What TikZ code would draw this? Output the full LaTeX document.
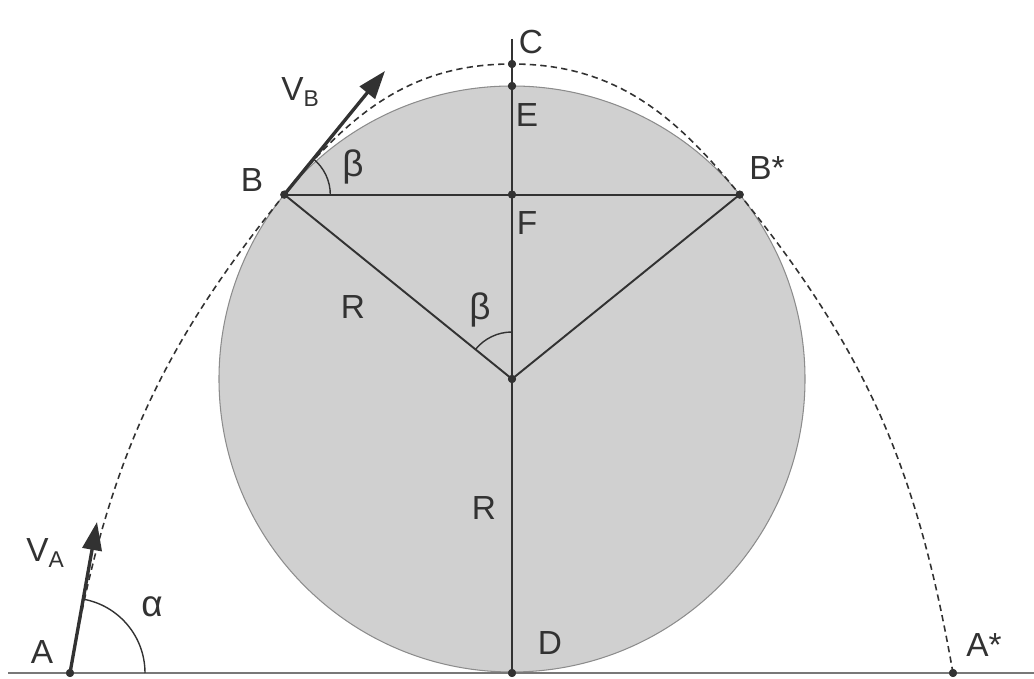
\documentclass[tikz,border=0pt]{standalone}
\usepackage{fontspec}
\setmainfont{Liberation Sans}
\usetikzlibrary{arrows.meta}
\definecolor{cfill}{RGB}{208,208,208}
\definecolor{ink}{RGB}{50,50,50}
\definecolor{groundc}{RGB}{120,120,120}
\begin{document}
\begin{tikzpicture}[x=0.02cm,y=0.02cm,
  lbl/.style={font=\fontsize{19}{21}\selectfont, text=ink, inner sep=0pt},
  glbl/.style={font=\fontsize{21}{23}\selectfont, text=ink, inner sep=0pt},
  dot/.style={circle, fill=ink, draw=none, inner sep=0pt, minimum size=4.6pt},
  thin line/.style={draw=ink, line width=1.1pt},
  trajectory/.style={draw=ink, line width=0.9pt, dash pattern=on 3.6pt off 2.4pt},
  velocity/.style={draw=ink, line width=1.9pt, -{Triangle[length=16pt,width=11pt]}},
  anglearc/.style={draw=ink, line width=0.8pt},
  groundline/.style={draw=groundc, line width=1.2pt},
  disc/.style={fill=cfill, draw=black!45, line width=0.6pt}
]
\useasboundingbox (0,0) rectangle (1034,679);

% disc
\coordinate (Oc) at (512,300);
\path[disc] (Oc) circle (293);

% points
\node[dot] (A)  at (70,6) {};
\node[dot] (D)  at (512,6) {};
\node[dot] (As) at (953,6) {};
\node[dot] (O)  at (512,300) {};
\node[dot] (B)  at (284.3,484.4) {};
\node[dot] (Bs) at (739.7,484.4) {};
\node[dot] (F)  at (512,484.4) {};
\node[dot] (E)  at (512,593) {};
\node[dot] (C)  at (512,615) {};
\coordinate (top) at (512,640);
\coordinate (gl) at (8,6);
\coordinate (gr) at (1034,6);
\coordinate (VAt) at (97,157);
\coordinate (VBt) at (385,608);

% ground
\path[groundline] (gl) -- (gr);

% lines
\path[thin line] (top) -- (D.center);
\path[thin line] (B.center) -- (Bs.center);
\path[thin line] (B.center) -- (O.center) -- (Bs.center);

% trajectory
\path[trajectory] (A.center) to[out=80,in=231] (B.center)
  to[out=51,in=180] (C.center)
  to[out=0,in=129] (Bs.center)
  to[out=-51,in=100] (As.center);

% angle arcs
\path[anglearc] ([shift={(0:75)}]A.center) arc (0:80:75);
\path[anglearc] ([shift={(0:46)}]B.center) arc (0:51:46);
\path[anglearc] ([shift={(90:47)}]O.center) arc (90:141:47);

% velocities
\path[velocity] (A.center) -- (VAt);
\path[velocity] (B.center) -- (VBt);

% redraw dots on top
\foreach \p in {A,D,As,O,B,Bs,F,E,C} \fill[ink] (\p.center) circle (4);

% labels
\node[lbl] (lVA) at (45,126) {V\raisebox{-0.3ex}{\fontsize{13}{14}\selectfont A}};
\node[lbl] (lA) at (42,27) {A};
\node[glbl] (lal) at (152,72) {α};
\node[lbl] (lVB) at (300,587) {V\raisebox{-0.3ex}{\fontsize{13}{14}\selectfont B}};
\node[lbl] (lB) at (252,499) {B};
\node[glbl] (lbe1) at (353,512) {β};
\node[lbl] (lC) at (531,637) {C};
\node[lbl] (lE) at (527,564) {E};
\node[lbl] (lF) at (527,456) {F};
\node[lbl] (lBs) at (767,511) {B*};
\node[lbl] (lR1) at (353,372) {R};
\node[glbl] (lbe2) at (480,369) {β};
\node[lbl] (lR2) at (484,171) {R};
\node[lbl] (lD) at (550,36) {D};
\node[lbl] (lAs) at (984,34) {A*};
\end{tikzpicture}
\end{document}
